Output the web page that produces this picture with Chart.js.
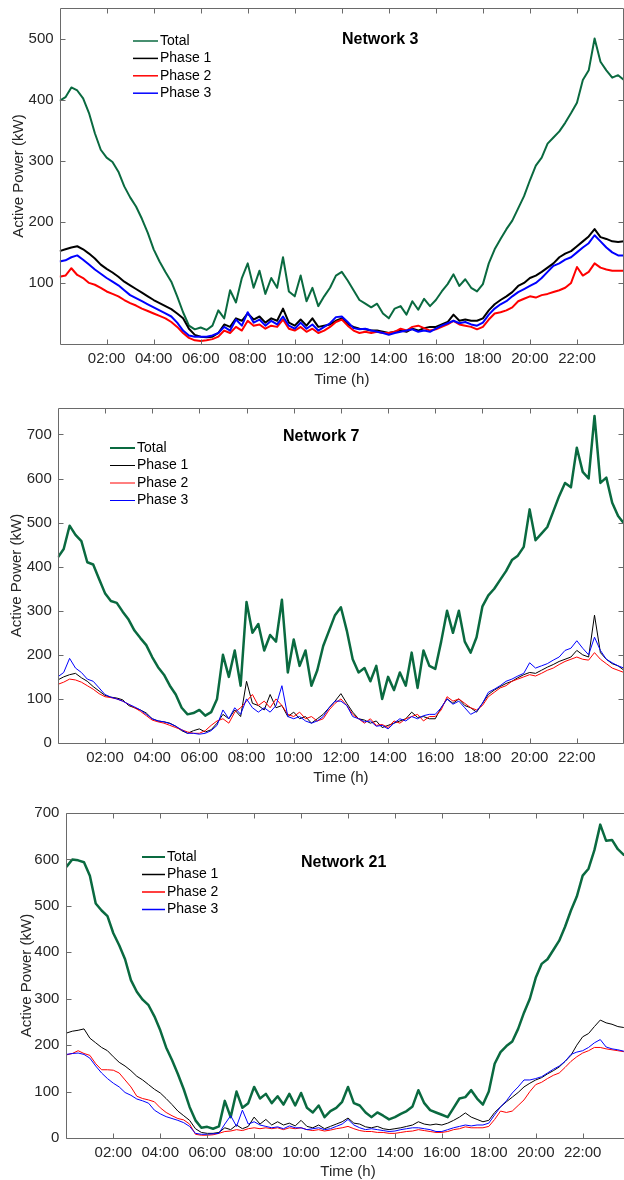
<!DOCTYPE html>
<html><head><meta charset="utf-8">
<script src="https://cdn.jsdelivr.net/npm/chart.js@4.4.0/dist/chart.umd.min.js"></script>
<style>
html,body{margin:0;padding:0;background:#fff;overflow:hidden;width:624px;height:1180px;position:relative;}
canvas{position:absolute;left:0;}
</style></head><body>
<canvas id="c1" width="624" height="392" style="top:0px"></canvas>
<canvas id="c2" width="624" height="392" style="top:400px"></canvas>
<canvas id="c3" width="632" height="382" style="top:800px"></canvas>
<script>
// ---- data (15-minute samples, 00:00 .. 24:00) ----
const SAMPLE_STEP_H = 0.25;
const X_TICK_HOURS = [2,4,6,8,10,12,14,16,18,20,22];
const X_TICK_LABELS = ['02:00','04:00','06:00','08:00','10:00','12:00','14:00','16:00','18:00','20:00','22:00'];
const SERIES_NAMES = ['Total','Phase 1','Phase 2','Phase 3'];
const SERIES_COLORS = ['#0a6a40','#000000','#ff0000','#0000ff'];

const N3_TICKS_Y = [100,200,300,400,500];
const N7_TICKS_Y = [0,100,200,300,400,500,600,700];
const N21_TICKS_Y = [0,100,200,300,400,500,600,700];

const N3_TOTAL = [398,404,420,415,402,378,345,318,305,298,
 282,258,240,225,205,182,155,135,118,102,
 78,52,30,24,27,23,30,55,42,88,
 68,108,132,92,120,82,108,92,142,86,
 78,112,70,92,62,78,92,112,118,104,
 88,72,66,60,66,50,42,58,62,48,
 70,56,74,62,72,86,98,114,95,106,
 92,86,98,132,155,172,188,202,222,242,
 268,292,305,328,338,348,362,378,395,432,
 448,500,462,448,436,440,432];
const N3_P1 = [152,155,158,160,155,148,140,130,123,117,
 110,102,96,90,84,78,72,67,62,57,
 50,42,25,15,12,11,12,18,32,28,
 42,38,50,40,45,35,42,38,58,35,
 30,40,30,42,28,30,32,38,42,32,
 28,25,24,22,22,20,18,20,22,20,
 25,22,26,28,28,32,36,48,38,40,
 38,38,42,55,65,72,78,85,95,100,
 108,112,118,125,132,142,148,152,160,168,
 176,188,175,172,168,167,168];
const N3_P2 = [110,112,124,113,108,100,97,92,86,82,
 78,72,67,63,58,54,50,46,42,36,
 28,18,10,6,5,6,8,12,22,18,
 28,22,38,30,32,25,30,28,40,25,
 22,28,20,25,18,22,28,36,40,30,
 22,18,20,18,20,18,18,20,25,22,
 28,30,26,22,24,28,32,38,32,30,
 28,24,28,40,50,52,55,60,70,74,
 78,76,80,82,85,88,92,100,126,112,
 118,132,125,122,120,120,120];
const N3_P3 = [135,137,142,145,138,130,122,115,108,102,
 96,88,80,75,70,65,60,55,50,45,
 35,22,14,12,12,12,14,18,28,22,
 40,30,52,35,40,30,38,32,45,30,
 25,35,25,32,22,28,34,44,45,36,
 26,24,25,22,20,18,15,18,20,22,
 24,20,22,20,25,30,34,38,34,36,
 32,30,35,48,58,65,70,78,85,90,
 95,100,108,118,128,132,138,142,150,158,
 165,178,168,158,150,145,145];

const N7_TOTAL = [421,440,493,472,458,410,405,372,340,322,
 318,298,280,255,238,222,195,172,155,130,
 110,80,65,68,75,62,70,100,200,150,
 210,130,320,250,270,210,245,230,325,160,
 235,175,210,130,165,220,255,290,308,255,
 190,160,170,140,175,100,150,120,160,130,
 205,125,210,175,168,230,300,250,300,230,
 205,240,310,335,350,370,390,415,425,445,
 530,460,475,490,525,560,590,580,670,615,
 600,742,590,602,545,515,498];
const N7_P1 = [143,150,155,158,148,140,128,118,108,104,
 102,98,85,80,75,68,55,50,48,45,
 38,28,22,28,32,25,30,45,65,55,
 75,60,140,90,85,75,110,80,85,60,
 70,55,60,45,55,65,80,95,112,90,
 70,55,52,45,50,35,40,45,50,55,
 70,58,60,55,55,80,100,90,100,85,
 80,70,90,110,120,128,135,140,148,155,
 160,158,165,172,178,185,190,195,210,200,
 195,290,205,190,180,175,165];
const N7_P2 = [133,138,145,143,138,130,122,112,105,103,
 100,95,88,80,72,62,52,48,45,40,
 35,30,25,22,22,28,40,50,55,45,
 70,80,95,110,85,95,80,100,85,65,
 60,70,55,60,50,55,75,90,100,85,
 65,55,45,55,40,42,35,50,45,55,
 60,65,50,60,60,75,105,95,100,90,
 80,75,85,105,115,125,130,140,145,150,
 155,152,158,165,170,178,185,190,195,190,
 188,205,190,180,170,165,160];
const N7_P3 = [150,160,192,170,160,145,140,125,110,104,
 100,95,88,82,75,65,55,50,48,44,
 38,30,22,22,20,22,28,40,75,55,
 80,65,100,80,70,80,70,85,130,60,
 55,60,50,45,50,60,80,95,95,85,
 60,55,48,50,38,40,32,45,55,50,
 60,55,62,65,65,80,100,88,95,80,
 65,72,90,115,122,130,140,145,152,158,
 182,170,175,180,188,195,210,215,232,215,
 200,240,210,190,182,175,170];

const N21_TOTAL = [584,600,598,594,565,505,490,478,441,415,
 385,340,315,298,286,262,232,195,168,138,
 105,67,38,22,24,20,25,80,45,100,
 65,75,110,85,95,75,90,72,95,70,
 97,65,55,70,45,58,65,78,110,75,
 70,55,45,55,48,40,45,52,58,68,
 103,75,60,55,50,45,65,85,88,103,
 85,72,100,160,185,198,208,235,270,300,
 345,375,385,405,425,455,490,520,565,580,
 620,675,640,642,622,610,606];
const N21_P1 = [226,230,232,235,215,205,195,188,175,163,
 155,145,133,125,115,105,97,85,72,58,
 48,38,20,12,10,10,12,22,18,28,
 20,25,45,30,40,28,35,28,32,26,
 38,25,22,28,20,25,30,35,43,32,
 30,24,22,25,20,18,20,22,25,28,
 35,30,28,30,28,32,38,45,54,45,
 40,35,38,55,67,78,88,98,110,118,
 125,130,138,145,153,165,178,200,218,225,
 240,254,248,245,240,238,235];
const N21_P2 = [179,182,188,182,178,160,147,147,146,140,
 125,110,90,85,82,78,65,55,48,42,
 39,30,8,6,6,7,10,14,15,18,
 16,20,22,20,22,20,22,18,22,20,
 22,18,16,18,15,17,20,22,25,20,
 16,14,14,12,12,10,10,12,14,15,
 18,16,14,12,12,14,18,20,24,22,
 22,22,25,40,58,55,58,70,82,100,
 115,120,128,135,140,152,165,175,183,188,
 195,195,192,190,188,186,185];
const N21_P3 = [180,182,183,180,172,155,140,128,118,110,
 98,92,84,80,75,60,52,46,42,38,
 33,25,10,8,8,9,10,30,48,25,
 60,30,35,28,25,22,24,20,26,22,
 22,18,20,22,18,20,25,30,40,28,
 22,18,20,18,16,14,15,18,20,22,
 22,20,18,14,14,18,22,25,28,26,
 28,28,32,50,67,80,97,110,125,125,
 128,132,140,148,155,165,180,185,188,195,
 205,212,196,192,190,187,185];

// ---- rendering ----
const FONT = "'Liberation Sans', Arial, Helvetica, sans-serif";
const TEXT_COLOR = '#262626';
const AXIS_COLOR = '#6a6a6a';

const framePlugin = {
  id: 'frame',
  afterDraw(chart, args, o) {
    const {ctx, chartArea: a, scales: {x, y}} = chart;
    ctx.save();
    ctx.strokeStyle = AXIS_COLOR;
    ctx.lineWidth = 1;
    const L = Math.round(a.left) + 0.5, R = Math.round(a.right) - 0.5;
    const T = Math.round(a.top) + 0.5, B = Math.round(a.bottom) + 0.5;
    ctx.beginPath();
    ctx.moveTo(L, T); ctx.lineTo(R, T); ctx.lineTo(R, B); ctx.lineTo(L, B); ctx.closePath();
    x.ticks.forEach(t => {
      const px = Math.round(x.getPixelForValue(t.value)) + 0.5;
      ctx.moveTo(px, B); ctx.lineTo(px, B - 5);
      ctx.moveTo(px, T); ctx.lineTo(px, T + 5);
    });
    y.ticks.forEach(t => {
      const py = Math.round(y.getPixelForValue(t.value)) + 0.5;
      ctx.moveTo(L, py); ctx.lineTo(L + 5, py);
      ctx.moveTo(R, py); ctx.lineTo(R - 5, py);
    });
    ctx.stroke();
    // panel title
    ctx.fillStyle = '#000';
    ctx.font = 'bold 16px ' + FONT;
    ctx.textBaseline = 'middle';
    ctx.textAlign = 'left';
    ctx.fillText(o.title, o.titleX, o.titleY);
    // legend
    ctx.font = '14px ' + FONT;
    chart.data.datasets.forEach((ds, i) => {
      const yy = o.legY + i * o.legDy;
      ctx.strokeStyle = SERIES_COLORS[i];
      ctx.lineWidth = o.legWidths[i];
      ctx.beginPath();
      ctx.moveTo(o.legX0, yy);
      ctx.lineTo(o.legX1, yy);
      ctx.stroke();
      ctx.fillStyle = '#000';
      ctx.fillText(ds.label, o.legX1 + 2, yy);
    });
    ctx.restore();
  }
};

function makePanel(id, series, widths, P) {
  const canvas = document.getElementById(id);
  const W = canvas.width, H = canvas.height;
  const datasets = series.map((arr, i) => ({
    label: SERIES_NAMES[i],
    data: arr.map((v, k) => ({x: k * SAMPLE_STEP_H, y: v})),
    borderColor: SERIES_COLORS[i],
    borderWidth: widths[i],
    pointRadius: 0,
    tension: 0,
    fill: false,
    borderJoinStyle: 'round',
    order: [3, 2, 1, 0][i]
  }));
  return new Chart(canvas, {
    type: 'line',
    data: {datasets},
    plugins: [framePlugin],
    options: {
      responsive: false,
      animation: false,
      events: [],
      layout: {padding: {top: P.top, right: W - P.right, left: 0, bottom: 0}},
      plugins: {
        legend: {display: false},
        tooltip: {enabled: false},
        frame: P.frame
      },
      scales: {
        x: {
          type: 'linear', min: 0, max: 24,
          afterBuildTicks: s => { s.ticks = X_TICK_HOURS.map(v => ({value: v})); },
          afterFit: s => { s.height = H - P.bottom; s.paddingLeft = 0; s.paddingRight = 0; },
          grid: {display: false, drawTicks: false}, border: {display: false},
          ticks: {
            color: TEXT_COLOR, font: {family: FONT, size: 15}, padding: P.xTickPad,
            maxRotation: 0, autoSkip: false,
            callback: v => X_TICK_LABELS[X_TICK_HOURS.indexOf(v)]
          },
          title: {display: true, text: 'Time (h)', color: TEXT_COLOR,
                  font: {family: FONT, size: 15}, padding: {top: 0, bottom: P.xTitlePad}}
        },
        y: {
          type: 'linear', min: 0, max: P.ymax,
          afterBuildTicks: s => { s.ticks = P.yTicks.map(v => ({value: v})); },
          afterFit: s => { s.width = P.left; s.paddingTop = 0; s.paddingBottom = 0; },
          grid: {display: false, drawTicks: false}, border: {display: false},
          ticks: {color: TEXT_COLOR, font: {family: FONT, size: 15}, padding: P.yTickPad},
          title: {display: true, text: 'Active Power (kW)', color: TEXT_COLOR,
                  font: {family: FONT, size: 15}, padding: {top: P.yTitlePad, bottom: 0}}
        }
      }
    }
  });
}

makePanel('c1', [N3_TOTAL, N3_P1, N3_P2, N3_P3], [2, 2, 2, 2], {
  left: 59.6, right: 624, top: 8, bottom: 344, ymax: 550, yTicks: N3_TICKS_Y,
  xTickPad: 6, xTitlePad: 3, yTitlePad: 9.5, yTickPad: 6,
  frame: {title: 'Network 3', titleX: 342, titleY: 40,
          legX0: 133, legX1: 158, legY: 41, legDy: 17.4, legWidths: [1.5, 1.5, 1.5, 1.5]}
});
makePanel('c2', [N7_TOTAL, N7_P1, N7_P2, N7_P3], [2.5, 1, 1, 1], {
  left: 57.8, right: 624, top: 8, bottom: 343, ymax: 760, yTicks: N7_TICKS_Y,
  xTickPad: 6, xTitlePad: 5, yTitlePad: 7.7, yTickPad: 6,
  frame: {title: 'Network 7', titleX: 283, titleY: 37,
          legX0: 110, legX1: 135, legY: 48, legDy: 17.5, legWidths: [2, 1, 1, 1]}
});
makePanel('c3', [N21_TOTAL, N21_P1, N21_P2, N21_P3], [2.5, 1, 1, 1], {
  left: 66.4, right: 629.6, top: 13, bottom: 338, ymax: 700, yTicks: N21_TICKS_Y,
  xTickPad: 6, xTitlePad: 1, yTitlePad: 17.7, yTickPad: 7,
  frame: {title: 'Network 21', titleX: 301, titleY: 63,
          legX0: 142, legX1: 165, legY: 57, legDy: 17.5, legWidths: [2, 1.5, 1.5, 1.5]}
});
</script>
</body></html>
